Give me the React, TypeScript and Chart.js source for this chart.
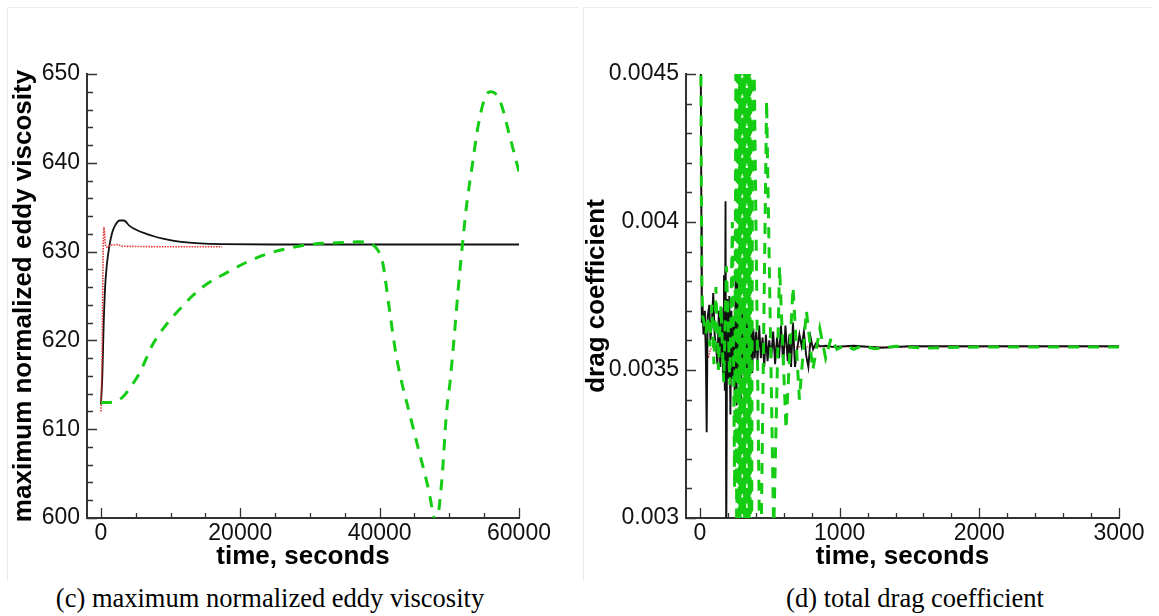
import React, { useEffect, useRef } from "react";
import { Chart, registerables } from "chart.js";
Chart.register(...registerables);

type Pt = [number, number];

const SANS = "'Liberation Sans', Arial, Helvetica, sans-serif";
const SERIF = "'Liberation Serif', 'Times New Roman', serif";

// ---------- Left panel (c): maximum normalized eddy viscosity ----------
const xTicksL = [0, 20000, 40000, 60000];
const xTickLabelsL = ["0", "20000", "40000", "60000"];
const xMinorL = [5000, 10000, 15000, 25000, 30000, 35000, 45000, 50000, 55000];
const yTicksL = [600, 610, 620, 630, 640, 650];
const yTickLabelsL = ["600", "610", "620", "630", "640", "650"];
const yMinorL = [602, 604, 606, 608, 612, 614, 616, 618, 622, 624, 626, 628, 632, 634, 636, 638, 642, 644, 646, 648];

const blackL: Pt[] = [
  [0, 612.8], [200, 616], [400, 622], [600, 626], [860, 628.6], [1200, 630.6], [1600, 632.1],
  [2000, 632.9], [2700, 633.5], [3300, 633.5], [4100, 632.9], [5200, 632.4], [6500, 632.0],
  [7700, 631.7], [8900, 631.45], [10500, 631.2], [12700, 631.0], [15000, 630.9], [17400, 630.85],
  [25000, 630.8], [40000, 630.8], [60000, 630.8],
];
const redL: Pt[] = [
  [0, 612], [150, 617], [250, 625], [330, 631], [430, 632.8], [520, 632.0], [650, 630.6],
  [900, 630.5], [1500, 630.75], [2400, 630.8], [3000, 630.6], [8000, 630.55], [17400, 630.55],
];
const greenL: Pt[] = [
  [0, 613], [1000, 613], [2000, 613.1], [3100, 613.6], [4300, 614.8], [5600, 616.4], [7400, 619.5],
  [9600, 622], [11300, 623.5], [13100, 625], [15100, 626.3], [18000, 627.6], [20900, 628.8],
  [23700, 629.7], [26500, 630.3], [30000, 630.8], [34000, 631.0], [37000, 631.1], [38700, 630.9],
  [39700, 630.2], [40400, 628.9], [41400, 623.5], [42400, 618.2], [44600, 610.8], [47000, 603.3],
  [48100, 599.5], [48900, 604], [49600, 611.9], [50100, 615.3], [50700, 620.4], [51300, 626],
  [52000, 631.7], [52400, 634.7], [53400, 640.3], [54100, 644], [55100, 647.3], [55900, 648],
  [56600, 647.8], [57400, 646.7], [58700, 642.9], [60000, 639],
];

// ---------- Right panel (d): total drag coefficient ----------
const xTicksR = [0, 1000, 2000, 3000];
const xTickLabelsR = ["0", "1000", "2000", "3000"];
const xMinorR = [200, 400, 600, 800, 1200, 1400, 1600, 1800, 2200, 2400, 2600, 2800];
const yTicksR = [0.003, 0.0035, 0.004, 0.0045];
const yTickLabelsR = ["0.003", "0.0035", "0.004", "0.0045"];
const yMinorR = [0.0031, 0.0032, 0.0033, 0.0034, 0.0036, 0.0037, 0.0038, 0.0039, 0.0041, 0.0042, 0.0043, 0.0044];

const blackR: Pt[] = [
  [0, 0.0049], [6, 0.0045], [10, 0.004], [13, 0.00366], [18, 0.00372], [25, 0.00362], [35, 0.0037],
  [42, 0.00355], [48, 0.00329], [55, 0.00368], [67, 0.00372], [75, 0.0036], [85, 0.00366],
  [95, 0.00376], [105, 0.00362], [115, 0.00358], [125, 0.00352], [135, 0.0037], [145, 0.00351],
  [155, 0.00371], [165, 0.00348], [172, 0.00382], [178, 0.00343], [183, 0.00407], [188, 0.0029],
  [195, 0.00374], [203, 0.00347], [210, 0.00375], [218, 0.00335], [225, 0.0037], [233, 0.00347],
  [240, 0.00366], [248, 0.00343], [256, 0.00383], [262, 0.00338], [270, 0.0038], [278, 0.00347],
  [286, 0.00374], [294, 0.00338], [302, 0.0037], [310, 0.0035], [318, 0.00369], [326, 0.00347],
  [334, 0.00368], [342, 0.0035], [350, 0.00367], [358, 0.00352], [366, 0.00365], [374, 0.00349],
  [382, 0.00364], [392, 0.00354], [402, 0.00363], [412, 0.00353], [424, 0.00365], [436, 0.00354],
  [448, 0.00361], [460, 0.00351], [472, 0.00362], [484, 0.00353], [496, 0.0036], [510, 0.00354],
  [524, 0.00363], [538, 0.00352], [552, 0.00361], [566, 0.00354], [580, 0.00365], [596, 0.00352],
  [612, 0.00365], [628, 0.00353], [640, 0.00362], [652, 0.00351], [666, 0.00366], [680, 0.00351],
  [696, 0.00357], [712, 0.00362], [728, 0.00358], [744, 0.00363], [760, 0.00355], [776, 0.00351],
  [792, 0.00361], [810, 0.00357], [830, 0.00359], [860, 0.00358], [900, 0.003582], [950, 0.003578],
  [1100, 0.003582], [1300, 0.003575], [1500, 0.00358], [3000, 0.00358],
];
const redR: Pt[] = [
  [0, 0.005], [8, 0.0045], [12, 0.004], [15, 0.00375], [22, 0.00368], [30, 0.0037], [40, 0.0036],
  [50, 0.00355], [60, 0.00354], [75, 0.00357], [100, 0.003578], [3000, 0.003578],
];
const greenR: Pt[] = [
  [0, 0.0049], [6, 0.0046], [10, 0.0041], [14, 0.00378], [20, 0.00368], [30, 0.00366], [42, 0.00362],
  [55, 0.00368], [70, 0.00358], [85, 0.00372], [100, 0.00352], [114, 0.00378], [132, 0.0035],
  [150, 0.00372], [170, 0.00346], [190, 0.00385], [214, 0.00345], [232, 0.004], [248, 0.0031],
  [258, 0.0047], [264, 0.0024], [268, 0.0052], [272, 0.0024], [276, 0.0052], [280, 0.0024],
  [284, 0.0052], [288, 0.0024], [292, 0.0052], [296, 0.0024], [300, 0.0052], [304, 0.0024],
  [308, 0.0052], [312, 0.0024], [316, 0.0052], [320, 0.0024], [324, 0.0052], [328, 0.0024],
  [332, 0.0052], [336, 0.0024], [340, 0.0052], [344, 0.0024], [348, 0.0052], [352, 0.0024],
  [356, 0.0052], [360, 0.0024], [364, 0.0052], [368, 0.0024], [379, 0.0049], [432, 0.0027],
  [477, 0.00441], [528, 0.00295], [570, 0.00385], [616, 0.0033], [666, 0.00378], [712, 0.0034],
  [762, 0.0037], [808, 0.0035], [858, 0.00364], [900, 0.00354], [940, 0.00361], [980, 0.00357],
  [1040, 0.003585], [1100, 0.00357], [1160, 0.003582], [1250, 0.003572], [1400, 0.00358],
  [1600, 0.003574], [2000, 0.003578], [3000, 0.003578],
];

const GREEN = "#14cc14";
const RED = "rgba(228,40,40,0.95)";
const BLACK = "#111";
const AXIS = "#333";

function toXY(pts: Pt[]) {
  return pts.map(([x, y]) => ({ x, y }));
}

function tickPlugin(cfg: { xMajor: number[]; xMinor: number[]; yMajor: number[]; yMinor: number[] }) {
  return {
    id: "inwardTicks",
    afterDatasetsDraw(chart: any) {
      const { ctx, chartArea } = chart;
      const xs = chart.scales.x;
      const ys = chart.scales.y;
      const b = chartArea.bottom;
      const l = chartArea.left;
      ctx.save();
      ctx.strokeStyle = AXIS;
      ctx.lineWidth = 1.3;
      ctx.beginPath();
      const vx = (v: number, len: number) => {
        const p = Math.round(xs.getPixelForValue(v)) + 0.5;
        ctx.moveTo(p, b);
        ctx.lineTo(p, b - len);
      };
      const vy = (v: number, len: number) => {
        const p = Math.round(ys.getPixelForValue(v)) + 0.5;
        ctx.moveTo(l, p);
        ctx.lineTo(l + len, p);
      };
      cfg.xMajor.forEach((v) => vx(v, 10));
      cfg.xMinor.forEach((v) => vx(v, 5));
      cfg.yMajor.forEach((v) => vy(v, 10));
      cfg.yMinor.forEach((v) => vy(v, 6));
      ctx.stroke();
      ctx.restore();
    },
  };
}

type PanelProps = {
  left: number;
  width: number;
  height: number;
  axisLeft: number;
  axisRight: number;
  yTitle: string;
  yTitlePad: number;
  xMin: number;
  xMax: number;
  yMin: number;
  yMax: number;
  xTicks: number[];
  xTickLabels: string[];
  xMinor: number[];
  yTicks: number[];
  yTickLabels: string[];
  yMinor: number[];
  series: { data: Pt[]; color: string; width: number; dash: number[]; smooth: boolean }[];
};

const PLOT_TOP = 74;
const PLOT_BOTTOM = 518;

function Panel(p: PanelProps) {
  const ref = useRef<HTMLCanvasElement | null>(null);
  useEffect(() => {
    if (!ref.current) return;
    const chart = new Chart(ref.current, {
      type: "line",
      data: {
        datasets: p.series.map((s) => ({
          data: toXY(s.data),
          borderColor: s.color,
          borderWidth: s.width,
          borderDash: s.dash,
          pointRadius: 0,
          fill: false,
          tension: 0,
          cubicInterpolationMode: s.smooth ? "monotone" : "default",
          borderCapStyle: "butt",
        })),
      } as any,
      options: {
        animation: false,
        responsive: false,
        maintainAspectRatio: false,
        events: [],
        layout: { padding: { top: PLOT_TOP, right: p.width - p.axisRight, bottom: 0, left: 0 } },
        plugins: { legend: { display: false }, tooltip: { enabled: false }, title: { display: false } },
        scales: {
          x: {
            type: "linear",
            min: p.xMin,
            max: p.xMax,
            afterBuildTicks: (s: any) => {
              s.ticks = p.xTicks.map((v) => ({ value: v }));
            },
            afterFit: (s: any) => {
              s.height = p.height - PLOT_BOTTOM;
            },
            grid: { display: false, drawTicks: false },
            border: { display: true, color: AXIS, width: 2 },
            ticks: {
              color: "#111",
              font: { family: SANS, size: 23 },
              padding: 2,
              maxRotation: 0,
              autoSkip: false,
              callback: (_v: any, i: number) => p.xTickLabels[i],
            },
            title: {
              display: true,
              text: "time, seconds",
              color: "#000",
              font: { family: SANS, size: 26, weight: "bold" },
              padding: { top: 0, bottom: 8 },
            },
          },
          y: {
            type: "linear",
            min: p.yMin,
            max: p.yMax,
            afterBuildTicks: (s: any) => {
              s.ticks = p.yTicks.map((v) => ({ value: v }));
            },
            afterFit: (s: any) => {
              s.width = p.axisLeft;
            },
            grid: { display: false, drawTicks: false },
            border: { display: true, color: AXIS, width: 2 },
            ticks: {
              color: "#111",
              font: { family: SANS, size: 23 },
              padding: 7,
              autoSkip: false,
              callback: (_v: any, i: number) => p.yTickLabels[i],
            },
            title: {
              display: true,
              text: p.yTitle,
              color: "#000",
              font: { family: SANS, size: 26, weight: "bold" },
              padding: { top: p.yTitlePad, bottom: 0 },
            },
          },
        },
      } as any,
      plugins: [tickPlugin({ xMajor: p.xTicks, xMinor: p.xMinor, yMajor: p.yTicks, yMinor: p.yMinor })],
    });
    return () => chart.destroy();
  }, []);
  return (
    <canvas
      ref={ref}
      width={p.width}
      height={p.height}
      style={{ position: "absolute", left: p.left, top: 0, width: p.width, height: p.height }}
    />
  );
}

export default function App() {
  return (
    <div style={{ position: "absolute", left: 0, top: 0, width: 1159, height: 616, background: "#fff", overflow: "hidden" }}>
      <div style={{ position: "absolute", left: 7, top: 7, width: 571, height: 573, borderLeft: "1px solid #ededed", borderTop: "1px solid #ededed" }} />
      <div style={{ position: "absolute", left: 583, top: 7, width: 569, height: 573, borderLeft: "1px solid #ededed", borderTop: "1px solid #ededed" }} />
      <Panel
        left={0}
        width={578}
        height={580}
        axisLeft={87}
        axisRight={519}
        yTitle="maximum normalized eddy viscosity"
        yTitlePad={8}
        xMin={-2000}
        xMax={60000}
        yMin={600}
        yMax={650}
        xTicks={xTicksL}
        xTickLabels={xTickLabelsL}
        xMinor={xMinorL}
        yTicks={yTicksL}
        yTickLabels={yTickLabelsL}
        yMinor={yMinorL}
        series={[
          { data: greenL, color: GREEN, width: 3, dash: [11, 9], smooth: true },
          { data: redL, color: RED, width: 1.6, dash: [1.5, 1.2], smooth: false },
          { data: blackL, color: BLACK, width: 1.8, dash: [], smooth: true },
        ]}
      />
      <Panel
        left={580}
        width={579}
        height={580}
        axisLeft={106}
        axisRight={539}
        yTitle="drag coefficient"
        yTitlePad={1}
        xMin={-100}
        xMax={3000}
        yMin={0.003}
        yMax={0.0045}
        xTicks={xTicksR}
        xTickLabels={xTickLabelsR}
        xMinor={xMinorR}
        yTicks={yTicksR}
        yTickLabels={yTickLabelsR}
        yMinor={yMinorR}
        series={[
          { data: greenR, color: GREEN, width: 3, dash: [11, 9], smooth: false },
          { data: blackR, color: BLACK, width: 1.9, dash: [], smooth: false },
          { data: redR, color: RED, width: 1.4, dash: [1.5, 1.2], smooth: false },
        ]}
      />
      <div style={{ position: "absolute", left: 20, width: 500, top: 583, lineHeight: "30px", textAlign: "center", fontFamily: SERIF, fontSize: 26.5, color: "#000", whiteSpace: "nowrap" }}>
        (c) maximum normalized eddy viscosity
      </div>
      <div style={{ position: "absolute", left: 665, width: 500, top: 583, lineHeight: "30px", textAlign: "center", fontFamily: SERIF, fontSize: 26.5, color: "#000", whiteSpace: "nowrap" }}>
        (d) total drag coefficient
      </div>
    </div>
  );
}
